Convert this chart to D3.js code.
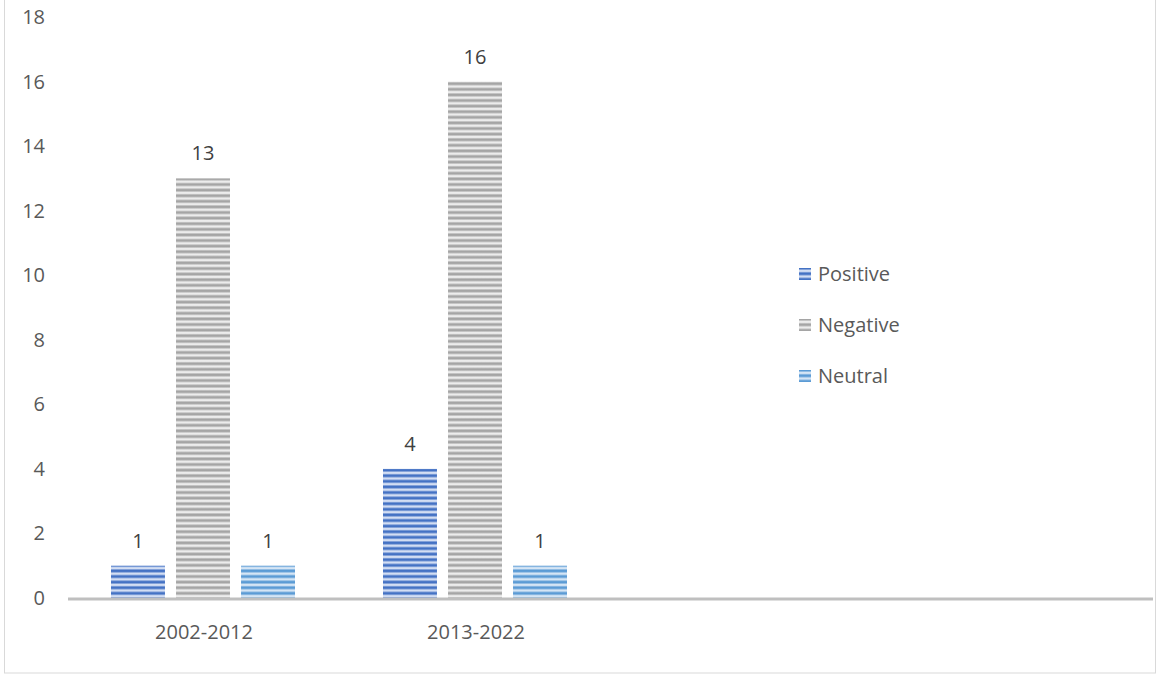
<!DOCTYPE html>
<html lang="en">
<head>
<meta charset="utf-8">
<title></title>
<script src="https://d3js.org/d3.v7.min.js"></script>
<style type="text/css">
  body { margin: 0; background: #fff; }
  text { font-family: "Open Sans", "Liberation Sans", sans-serif; fill: #595959; }
  .tick-lbl { font-size: 20px; }
  .val-lbl { font-size: 20px; fill: #404040; }
  .leg-lbl { font-size: 20px; }
</style>
</head>
<body>
<svg width="1157" height="675"></svg>
<script>
// data
var categories = ["2002-2012", "2013-2022"];
var seriesNames = ["Positive", "Negative", "Neutral"];
var positive = [1, 4];
var negative = [13, 16];
var neutral = [1, 1];
var yTicks = [0, 2, 4, 6, 8, 10, 12, 14, 16, 18];

var colors = {
  Positive: { dark: "#4472c4", light: "#d3def3" },
  Negative: { dark: "#a5a5a5", light: "#ececec" },
  Neutral:  { dark: "#5b9bd5", light: "#d5e5f5" }
};

var svg = d3.select("svg");

// outer frame
svg.append("rect")
  .attr("x", 4.5).attr("y", -2).attr("width", 1151).attr("height", 675)
  .attr("fill", "none").attr("stroke", "#d9d9d9").attr("stroke-width", 1);

// striped patterns
var defs = svg.append("defs");
seriesNames.forEach(function(name) {
  var c = colors[name];
  var grad = defs.append("linearGradient")
    .attr("id", "g-" + name)
    .attr("x1", 0).attr("y1", 0).attr("x2", 0).attr("y2", 1);
  grad.append("stop").attr("offset", "0%").attr("stop-color", c.dark);
  grad.append("stop").attr("offset", "30%").attr("stop-color", c.dark);
  grad.append("stop").attr("offset", "55%").attr("stop-color", c.light);
  grad.append("stop").attr("offset", "80%").attr("stop-color", c.light);
  grad.append("stop").attr("offset", "100%").attr("stop-color", c.dark);
  var p = defs.append("pattern")
    .attr("id", "p-" + name)
    .attr("patternUnits", "userSpaceOnUse")
    .attr("width", 8).attr("height", 5.6)
    .attr("y", 598);
  p.append("rect").attr("width", 8).attr("height", 5.6).attr("fill", "url(#g-" + name + ")");
});

var plotLeft = 68, plotRight = 1153, plotTop = 17, plotBottom = 598;
var band = 272;

var x = d3.scaleBand()
  .domain(categories)
  .range([plotLeft, plotLeft + band * categories.length]);
var xs = d3.scaleBand()
  .domain(seriesNames)
  .range([43, 227])
  .paddingInner(0.17);
var y = d3.scaleLinear().domain([0, 18]).range([plotBottom, plotTop]);

// y tick labels
svg.append("g").selectAll("text")
  .data(yTicks).join("text")
  .attr("class", "tick-lbl")
  .attr("x", 45).attr("y", d => y(d))
  .attr("dy", "0.35em")
  .attr("text-anchor", "end")
  .text(d => d);

// bars
var rows = categories.map(function(c, i) {
  return { cat: c, vals: [
    { s: "Positive", v: positive[i] },
    { s: "Negative", v: negative[i] },
    { s: "Neutral", v: neutral[i] }
  ] };
});

var grp = svg.append("g").selectAll("g")
  .data(rows).join("g")
  .attr("transform", d => `translate(${x(d.cat)},0)`);

grp.selectAll("rect")
  .data(d => d.vals).join("rect")
  .attr("x", d => xs(d.s))
  .attr("width", xs.bandwidth())
  .attr("y", d => y(d.v))
  .attr("height", d => y(0) - y(d.v))
  .attr("fill", d => "url(#p-" + d.s + ")");

grp.selectAll("text")
  .data(d => d.vals).join("text")
  .attr("class", "val-lbl")
  .attr("x", d => xs(d.s) + xs.bandwidth() / 2)
  .attr("y", d => y(d.v) - 18)
  .attr("text-anchor", "middle")
  .text(d => d.v);

// x axis line
svg.append("line")
  .attr("x1", plotLeft).attr("x2", plotRight)
  .attr("y1", plotBottom + 1).attr("y2", plotBottom + 1)
  .attr("stroke", "#bfbfbf").attr("stroke-width", 3);

// category labels
svg.append("g").selectAll("text")
  .data(categories).join("text")
  .attr("class", "tick-lbl")
  .attr("x", d => x(d) + x.bandwidth() / 2)
  .attr("y", 639)
  .attr("text-anchor", "middle")
  .text(d => d);

// legend
var leg = svg.append("g").selectAll("g")
  .data(seriesNames).join("g")
  .attr("transform", (d, i) => `translate(799,${274 + i * 51})`);
leg.append("rect")
  .attr("x", 0).attr("y", -6).attr("width", 12).attr("height", 12)
  .attr("fill", d => "url(#p-" + d + ")");
leg.append("text")
  .attr("class", "leg-lbl")
  .attr("x", 19).attr("dy", "0.35em")
  .text(d => d);
</script>
</body>
</html>
